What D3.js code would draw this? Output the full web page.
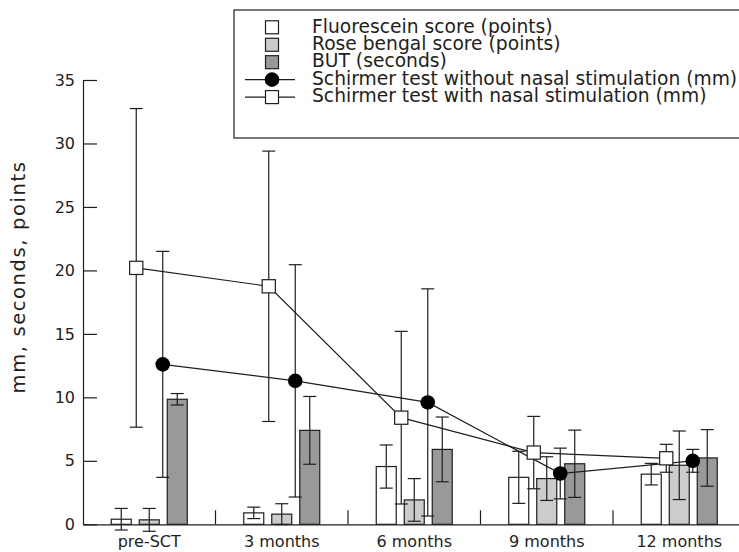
<!DOCTYPE html>
<html>
<head>
<meta charset="utf-8">
<script src="https://cdn.jsdelivr.net/npm/d3@7"></script>
<style>
  body { margin: 0; background: #fff; }
  svg { display: block; font-family: "DejaVu Sans", sans-serif; }
</style>
</head>
<body>
<svg id="chart" width="739" height="552"></svg>
<script>
  // values (mean and SD error bars)
  const categories = ["pre-SCT", "3 months", "6 months", "9 months", "12 months"];
  const yTicks = [0, 5, 10, 15, 20, 25, 30, 35];

  const fluorescein = [0.4, 0.9, 4.55, 3.7, 3.95];
  const fluoresceinSd = [0.85, 0.45, 1.7, 2.05, 0.85];
  const roseBengal = [0.35, 0.8, 1.92, 3.6, 4.65];
  const roseBengalSd = [0.9, 0.82, 1.68, 1.72, 2.7];
  const but = [9.85, 7.4, 5.9, 4.77, 5.23];
  const butSd = [0.45, 2.67, 2.55, 2.65, 2.23];
  const schirmerWithout = [12.6, 11.3, 9.6, 4.0, 5.0];
  const schirmerWithoutSd = [8.9, 9.15, 8.95, 2.0, 0.9];
  const schirmerWith = [20.2, 18.75, 8.4, 5.65, 5.2];
  const schirmerWithSd = [12.55, 10.65, 6.8, 2.85, 1.1];

  const ink = "#1e1e1e";
  const barSeries = [
    { name: "Fluorescein score (points)", values: fluorescein, sd: fluoresceinSd, fill: "#ffffff" },
    { name: "Rose bengal score (points)", values: roseBengal, sd: roseBengalSd, fill: "#cccccc" },
    { name: "BUT (seconds)", values: but, sd: butSd, fill: "#999999" }
  ];
  const lineSeries = [
    { key: "without", name: "Schirmer test without nasal stimulation (mm)", values: schirmerWithout, sd: schirmerWithoutSd, marker: "circle" },
    { key: "with", name: "Schirmer test with nasal stimulation (mm)", values: schirmerWith, sd: schirmerWithSd, marker: "square" }
  ];

  const svg = d3.select("#chart");

  const x = d3.scaleBand().domain(categories).range([83, 745.5]);
  const y = d3.scaleLinear().domain([0, 35]).range([524.3, 80]);
  const xBar = d3.scaleBand().domain(barSeries.map((s) => s.name))
    .range([-42, 42]).paddingInner(8 / 28).paddingOuter(4 / 28);
  const xLine = d3.scalePoint().domain(["with", "without"]).range([-13, 13.5]);
  const mid = (c) => x(c) + x.bandwidth() / 2;
  const cap = 6.5;

  function errorBar(g, cx, mean, sd) {
    const top = y(mean + sd), bot = y(mean - sd);
    g.append("line").attr("x1", cx).attr("x2", cx).attr("y1", top).attr("y2", bot);
    g.append("line").attr("x1", cx - cap).attr("x2", cx + cap).attr("y1", top).attr("y2", top);
    g.append("line").attr("x1", cx - cap).attr("x2", cx + cap).attr("y1", bot).attr("y2", bot);
  }

  // axes
  const yAxis = d3.axisLeft(y).tickValues(yTicks).tickSizeInner(-14).tickSizeOuter(0).tickPadding(8);
  const gy = svg.append("g").attr("transform", "translate(83,0)").call(yAxis);
  gy.selectAll("text").attr("font-size", 16).attr("fill", ink).attr("font-family", "DejaVu Sans");
  gy.selectAll("line, path").attr("stroke", ink).attr("stroke-width", 1.2);

  const xAxis = d3.axisBottom(x).tickSize(0).tickPadding(11.6);
  const gx = svg.append("g").attr("transform", `translate(0,${y(0)})`).call(xAxis);
  gx.selectAll("text").attr("font-size", 16).attr("fill", ink).attr("font-family", "DejaVu Sans");
  gx.select(".domain").attr("stroke", ink).attr("stroke-width", 1.2);
  gx.selectAll(".sep").data(categories.slice(1)).join("line")
    .attr("class", "sep")
    .attr("x1", (d) => x(d)).attr("x2", (d) => x(d))
    .attr("y1", 0).attr("y2", -14)
    .attr("stroke", ink).attr("stroke-width", 1.2);

  svg.append("text")
    .attr("transform", "translate(25,277) rotate(-90)")
    .attr("text-anchor", "middle")
    .attr("font-size", 19.5)
    .attr("letter-spacing", 1.6)
    .attr("fill", ink)
    .text("mm, seconds, points");

  // bars with SD bars
  const gBars = svg.append("g");
  barSeries.forEach((s) => {
    gBars.append("g").selectAll("rect").data(categories).join("rect")
      .attr("x", (c) => mid(c) + xBar(s.name))
      .attr("width", xBar.bandwidth())
      .attr("y", (c, i) => y(s.values[i]))
      .attr("height", (c, i) => y(0) - y(s.values[i]))
      .attr("fill", s.fill)
      .attr("stroke", ink)
      .attr("stroke-width", 1.2);
  });
  const gBarErr = svg.append("g").attr("stroke", ink).attr("stroke-width", 1.2);
  barSeries.forEach((s) => {
    categories.forEach((c, i) => {
      errorBar(gBarErr, mid(c) + xBar(s.name) + xBar.bandwidth() / 2, s.values[i], s.sd[i]);
    });
  });

  // Schirmer lines
  const line = d3.line();
  lineSeries.forEach((s) => {
    const pts = categories.map((c, i) => [mid(c) + xLine(s.key), y(s.values[i])]);
    svg.append("path").attr("d", line(pts)).attr("fill", "none")
      .attr("stroke", ink).attr("stroke-width", 1.2);
  });
  const gLineErr = svg.append("g").attr("stroke", ink).attr("stroke-width", 1.2);
  lineSeries.forEach((s) => {
    categories.forEach((c, i) => errorBar(gLineErr, mid(c) + xLine(s.key), s.values[i], s.sd[i]));
  });
  lineSeries.forEach((s) => {
    const g = svg.append("g");
    categories.forEach((c, i) => {
      const cx = mid(c) + xLine(s.key), cy = y(s.values[i]);
      if (s.marker === "circle") {
        g.append("circle").attr("cx", cx).attr("cy", cy).attr("r", 7.3).attr("fill", "#000");
      } else {
        g.append("rect").attr("x", cx - 6.6).attr("y", cy - 6.6).attr("width", 13.2).attr("height", 13.2)
          .attr("fill", "#fff").attr("stroke", ink).attr("stroke-width", 1.2);
      }
    });
  });

  // legend
  const legend = svg.append("g");
  legend.append("rect").attr("x", 234).attr("y", 10).attr("width", 540).attr("height", 128)
    .attr("fill", "#fff").attr("stroke", ink).attr("stroke-width", 1.2);
  const rowY = (i) => 27.3 + i * 17.45;
  barSeries.forEach((s, i) => {
    legend.append("rect").attr("x", 265.5).attr("y", rowY(i) - 6.5).attr("width", 13).attr("height", 13)
      .attr("fill", s.fill).attr("stroke", ink).attr("stroke-width", 1.2);
  });
  lineSeries.forEach((s, j) => {
    const cy = rowY(barSeries.length + j);
    legend.append("line").attr("x1", 245).attr("x2", 295).attr("y1", cy).attr("y2", cy)
      .attr("stroke", ink).attr("stroke-width", 1.2);
    if (s.marker === "circle") {
      legend.append("circle").attr("cx", 272).attr("cy", cy).attr("r", 7.3).attr("fill", "#000");
    } else {
      legend.append("rect").attr("x", 265.5).attr("y", cy - 6.5).attr("width", 13).attr("height", 13)
        .attr("fill", "#fff").attr("stroke", ink).attr("stroke-width", 1.2);
    }
  });
  const names = barSeries.map((s) => s.name).concat(lineSeries.map((s) => s.name));
  legend.selectAll(".lbl").data(names).join("text")
    .attr("class", "lbl")
    .attr("x", 312)
    .attr("y", (d, i) => rowY(i) + 5.2)
    .attr("font-size", 18.7)
    .attr("fill", ink)
    .text((d) => d);
</script>
</body>
</html>
